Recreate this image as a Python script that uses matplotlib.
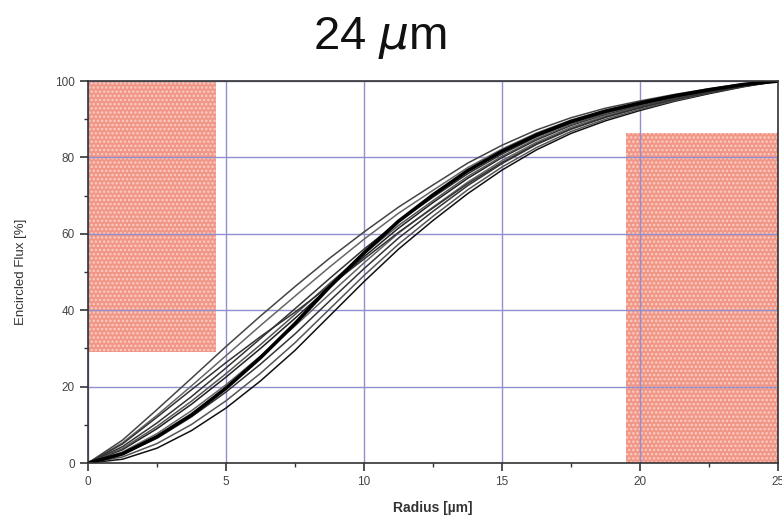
import matplotlib.pyplot as plt
from matplotlib.patches import Rectangle
from matplotlib.ticker import MultipleLocator

plt.rcParams['font.family'] = ['Liberation Sans', 'DejaVu Sans']
plt.rcParams['hatch.linewidth'] = 1.2

# 半径采样点 (um)
radius = [0, 1.25, 2.5, 3.75, 5, 6.25, 7.5, 8.75, 10, 11.25, 12.5, 13.75,
          15, 16.25, 17.5, 18.75, 20, 21.25, 22.5, 23.75, 25]

# 各条曲线的包围能量 (%)
flux_a = [0, 1.0, 3.9, 8.5, 14.4, 21.5, 29.5, 38.5, 47.5, 56.0, 63.5, 70.5, 76.7, 82.0, 86.3, 89.6, 92.3, 94.7, 96.7, 98.5, 100]
flux_b = [0, 1.6, 5.1, 10.1, 16.3, 23.5, 31.5, 40.3, 49.1, 57.3, 64.6, 71.5, 77.5, 82.6, 86.8, 90.0, 92.6, 94.9, 96.9, 98.6, 100]
flux_c = [0, 2.3, 6.5, 12.1, 18.6, 25.9, 33.8, 42.4, 50.9, 58.9, 65.9, 72.6, 78.4, 83.4, 87.4, 90.5, 93.0, 95.2, 97.0, 98.7, 100]
flux_d = [0, 2.9, 7.7, 13.7, 20.5, 28.0, 35.9, 44.2, 52.4, 60.2, 67.0, 73.5, 79.2, 84.0, 87.9, 90.9, 93.3, 95.4, 97.2, 98.8, 100]
flux_e = [0, 3.5, 9.0, 15.4, 22.5, 30.0, 37.9, 46.1, 54.0, 61.5, 68.2, 74.5, 80.0, 84.6, 88.4, 91.3, 93.6, 95.6, 97.4, 98.9, 100]
flux_f = [0, 3.8, 9.6, 16.2, 23.4, 31.0, 38.9, 47.0, 54.8, 62.2, 68.7, 75.0, 80.3, 84.9, 88.6, 91.5, 93.7, 95.7, 97.4, 99.0, 100]
flux_g = [0, 4.3, 10.5, 17.4, 24.9, 32.6, 40.4, 48.3, 56.0, 63.2, 69.6, 75.7, 80.9, 85.4, 89.0, 91.8, 93.9, 95.9, 97.6, 99.0, 100]
flux_h = [0, 5.3, 12.5, 20.2, 28.1, 36.0, 43.7, 51.3, 58.6, 65.4, 71.4, 77.3, 82.2, 86.4, 89.8, 92.4, 94.4, 96.2, 97.8, 99.2, 100]
flux_i = [0, 6.0, 14.0, 22.2, 30.5, 38.5, 46.2, 53.6, 60.5, 67.0, 72.8, 78.5, 83.2, 87.2, 90.4, 92.9, 94.8, 96.5, 98.0, 99.3, 100]
flux_j = [0, 5.0, 12.0, 19.2, 26.3, 33.1, 39.5, 46.4, 53.4, 60.4, 66.8, 73.1, 78.7, 83.6, 87.5, 90.6, 93.1, 95.2, 97.1, 98.7, 100]
# 最粗的那条
flux_bold = [0, 2.4, 6.9, 12.6, 19.6, 27.6, 36.5, 46.1, 55.0, 63.3, 70.2, 76.5, 81.6, 85.9, 89.4, 92.1, 94.2, 96.1, 97.7, 99.1, 100]

thin_curves = [flux_a, flux_b, flux_c, flux_d, flux_e, flux_f, flux_g, flux_h, flux_i, flux_j]
thin_colors = ['#111111', '#555555', '#333333', '#666666', '#222222',
               '#555555', '#333333', '#666666', '#444444', '#333333']

# 禁区矩形 (x0, x1, y0, y1)
left_box = (0, 4.65, 29.1, 100)
right_box = (19.5, 25, 0, 86.5)

fig = plt.figure(figsize=(7.82, 5.28), dpi=100)
ax = fig.add_axes([0.1125, 0.123, 0.8825, 0.7235])

for box in [left_box, right_box]:
    rect = Rectangle((box[0], box[2]), box[1] - box[0], box[3] - box[2],
                     facecolor='#f08a78', edgecolor='#fbd3cb', hatch='....',
                     linewidth=0, alpha=0.9, zorder=1)
    ax.add_patch(rect)

for vals, col in zip(thin_curves, thin_colors):
    ax.plot(radius, vals, color=col, linewidth=1.1, zorder=3)
ax.plot(radius, flux_bold, color='black', linewidth=2.6, zorder=4)

ax.set_xlim(0, 25)
ax.set_ylim(0, 100)
ax.xaxis.set_major_locator(MultipleLocator(5))
ax.xaxis.set_minor_locator(MultipleLocator(2.5))
ax.yaxis.set_major_locator(MultipleLocator(20))
ax.yaxis.set_minor_locator(MultipleLocator(10))
ax.grid(True, which='major', color='#9090d0', linewidth=1.0, zorder=2)
ax.set_axisbelow(False)

for sp in ax.spines.values():
    sp.set_color('#333333')
    sp.set_linewidth(1.2)
    sp.set_zorder(5)
ax.tick_params(which='major', direction='out', length=6, width=1.2, colors='#333333',
               labelsize=8.5, labelcolor='#444444')
ax.tick_params(which='minor', direction='out', length=3, width=1.0, colors='#333333')

ax.set_xlabel('Radius [µm]', fontsize=10, fontweight='bold', color='#333333', labelpad=9)
ax.set_ylabel('Encircled Flux [%]', fontsize=9.5, color='#333333', labelpad=20)

fig.text(0.486, 1 - 38 / 528, '24 $\\mu$m', fontsize=34, ha='center', va='center', color='#111111')

fig.savefig('out.png', dpi=100)
